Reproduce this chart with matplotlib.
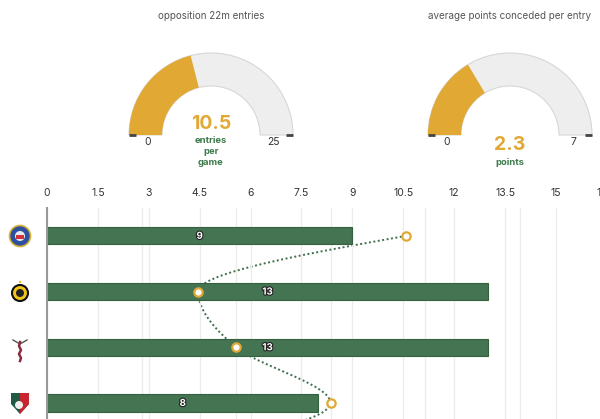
import numpy as np
import matplotlib.pyplot as plt
from matplotlib.patches import Wedge, Circle, Polygon, Rectangle
import matplotlib.patheffects as pe

plt.rcParams['font.family'] = ['Inter', 'DejaVu Sans']

# data
teams = ["Bath", "Exeter", "Harlequins", "Leicester", "Newcastle"]
entries = [9, 13, 13, 8, 10]
points_per_entry = [3.8, 1.6, 2.0, 3.0, 0.9]

gauge_titles = ["opposition 22m entries", "average points conceded per entry"]
gauge_values = [10.5, 2.3]
gauge_max = [25, 7]
gauge_units = [["entries", "per", "game"], ["points"]]

ORANGE = "#e1a834"
GREEN = "#457452"
GREEN_TXT = "#3d7a4c"
W, H = 600, 419

fig = plt.figure(figsize=(6, 4.19), dpi=100)

# pixel overlay for gauges and logos
bg = fig.add_axes([0, 0, 1, 1])
bg.set_xlim(0, W)
bg.set_ylim(H, 0)
bg.axis('off')


def gauge(cx, cy, value, vmax, title, unit):
    ro, ri = 82, 49
    bg.add_patch(Wedge((cx, cy), ro, 180, 360, width=ro - ri,
                       fc="#eeeeee", ec="#d7d7d7", lw=0.8))
    bg.add_patch(Wedge((cx, cy), ro, 180, 180 + 180 * value / vmax,
                       width=ro - ri, fc=ORANGE, ec="none"))
    bg.plot([cx - ro, cx - ro + 7], [cy, cy], color="#444", lw=2,
            solid_capstyle="butt")
    bg.plot([cx + ro - 7, cx + ro], [cy, cy], color="#444", lw=2,
            solid_capstyle="butt")
    mid = (ro + ri) / 2
    bg.text(cx - mid + 2.5, cy + 7, "0", ha="center", va="center",
            fontsize=7.5, color="#333")
    bg.text(cx + mid - 2.5, cy + 7, f"{vmax:g}", ha="center", va="center",
            fontsize=7.5, color="#333")
    bg.text(cx, 16, title, ha="center", va="center", fontsize=7.1,
            color="#555")
    if len(unit) > 1:
        vy = cy - 11
    else:
        vy = cy + 10
    bg.text(cx, vy, f"{value:g}", ha="center", va="center", fontsize=14,
            fontweight="bold", color=ORANGE)
    for k, u in enumerate(unit):
        bg.text(cx, 162 - 11 * (len(unit) - 1 - k), u, ha="center",
                va="center", fontsize=6.8, fontweight="bold", color=GREEN_TXT)


gauge(211, 135, gauge_values[0], gauge_max[0], gauge_titles[0], gauge_units[0])
gauge(510, 135, gauge_values[1], gauge_max[1], gauge_titles[1], gauge_units[1])

# rough team badges
bg.add_patch(Circle((20, 236), 10.5, fc="#2c4f9e", ec="#d8b23a", lw=1.2))
bg.add_patch(Circle((20, 236), 5, fc="#e8e8f0", ec="none"))
bg.add_patch(Rectangle((16, 235), 8, 4, fc="#d0343a", ec="none"))
bg.add_patch(Circle((20, 293), 8, fc="#f0c419", ec="#111", lw=1.5))
bg.add_patch(Circle((20, 293), 4, fc="#222", ec="none"))
bg.add_patch(Circle((20, 282), 1.2, fc="#f0c419", ec="none"))
bg.plot([13, 20, 27], [340, 344, 340], color="#555", lw=1)
bg.plot([20, 19, 21, 19, 21, 20], [342, 346, 350, 354, 358, 361],
        color="#8b2d3c", lw=1.8)
bg.add_patch(Polygon([[11, 393], [29, 393], [29, 404], [20, 414], [11, 404]],
                     closed=True, fc="#1f5a45", ec="none"))
bg.add_patch(Polygon([[20, 393], [29, 393], [29, 404], [20, 414]],
                     closed=True, fc="#c8262f", ec="none"))
bg.add_patch(Circle((19, 405), 4, fc="#eee", ec="none"))

# main chart: primary = entries, secondary = points per entry
ppx = 33.93   # pixels per entry
spx = 94.5    # pixels per point
xmax = 18
row = 55.7
ax = fig.add_axes([47 / W, (H - 208 - len(teams) * row) / H, xmax * ppx / W,
                   len(teams) * row / H])
ax2 = ax.twiny()
ax.set_zorder(ax2.get_zorder() + 1)
ax.patch.set_visible(False)
ax2.patch.set_visible(False)

idx = np.arange(len(teams))
ax.set_ylim(len(teams) - 0.5, -0.5)
ax.set_xlim(0, xmax)
ax2.set_xlim(0, xmax * ppx / spx)

ax2.set_xticks(np.arange(1, 7))
ax2.grid(axis="x", color="#ececec", lw=1)
ax2.tick_params(top=False, labeltop=False, length=0)
for s in ax2.spines.values():
    s.set_visible(False)


# monotone curve through the dots (x as a function of row)
def monotone(t, v, n=60):
    t = np.asarray(t, float)
    v = np.asarray(v, float)
    h = np.diff(t)
    s = np.diff(v) / h
    m = np.zeros(len(t))
    for i in range(1, len(t) - 1):
        s0, s1 = s[i - 1], s[i]
        p = (s0 * h[i] + s1 * h[i - 1]) / (h[i - 1] + h[i])
        m[i] = (np.sign(s0) + np.sign(s1)) * min(abs(s0), abs(s1), 0.5 * abs(p))
    m[0] = (3 * s[0] - m[1]) / 2
    m[-1] = (3 * s[-1] - m[-2]) / 2
    tt, vv = [], []
    for i in range(len(t) - 1):
        u = np.linspace(0, 1, n)
        h00 = 2 * u**3 - 3 * u**2 + 1
        h10 = u**3 - 2 * u**2 + u
        h01 = -2 * u**3 + 3 * u**2
        h11 = u**3 - u**2
        vv.append(h00 * v[i] + h10 * h[i] * m[i] + h01 * v[i + 1] + h11 * h[i] * m[i + 1])
        tt.append(t[i] + u * h[i])
    return np.concatenate(tt), np.concatenate(vv)


cy, cx = monotone(idx, points_per_entry)
ax2.plot(cx, cy, color="#3e6e4b", ls=(0, (1, 1.3)), lw=1.4)

ax.set_axisbelow(True)
ax.grid(axis="x", color="#ececec", lw=1)
ax.barh(idx, entries, height=0.31, color=GREEN, edgecolor="#33603e", lw=0.8,
        zorder=2)
# labels only for rows that show in the crop
for i, v in enumerate(entries[:4]):
    ax.text(v / 2, i, str(v), ha="center", va="center", fontsize=7,
            fontweight="bold", color="white", zorder=5,
            path_effects=[pe.withStroke(linewidth=1.6, foreground="#222")])
ax.plot(points_per_entry, idx, "o", transform=ax2.transData, ms=6,
        mfc="white", mec=ORANGE, mew=1.6, zorder=4)

ticks = np.arange(0, xmax, 1.5)
ax.xaxis.tick_top()
ax.set_xticks(ticks)
ax.set_xticklabels([f"{t:g}" for t in ticks])
ax.tick_params(axis="x", length=0, pad=7.5, labelsize=7.5, labelcolor="#333")
ax.set_yticks([])
for k in ["top", "right", "bottom"]:
    ax.spines[k].set_visible(False)
ax.spines["left"].set_color("#9a9a9a")
ax.spines["left"].set_linewidth(1.5)

fig.savefig("out.png", dpi=100)
